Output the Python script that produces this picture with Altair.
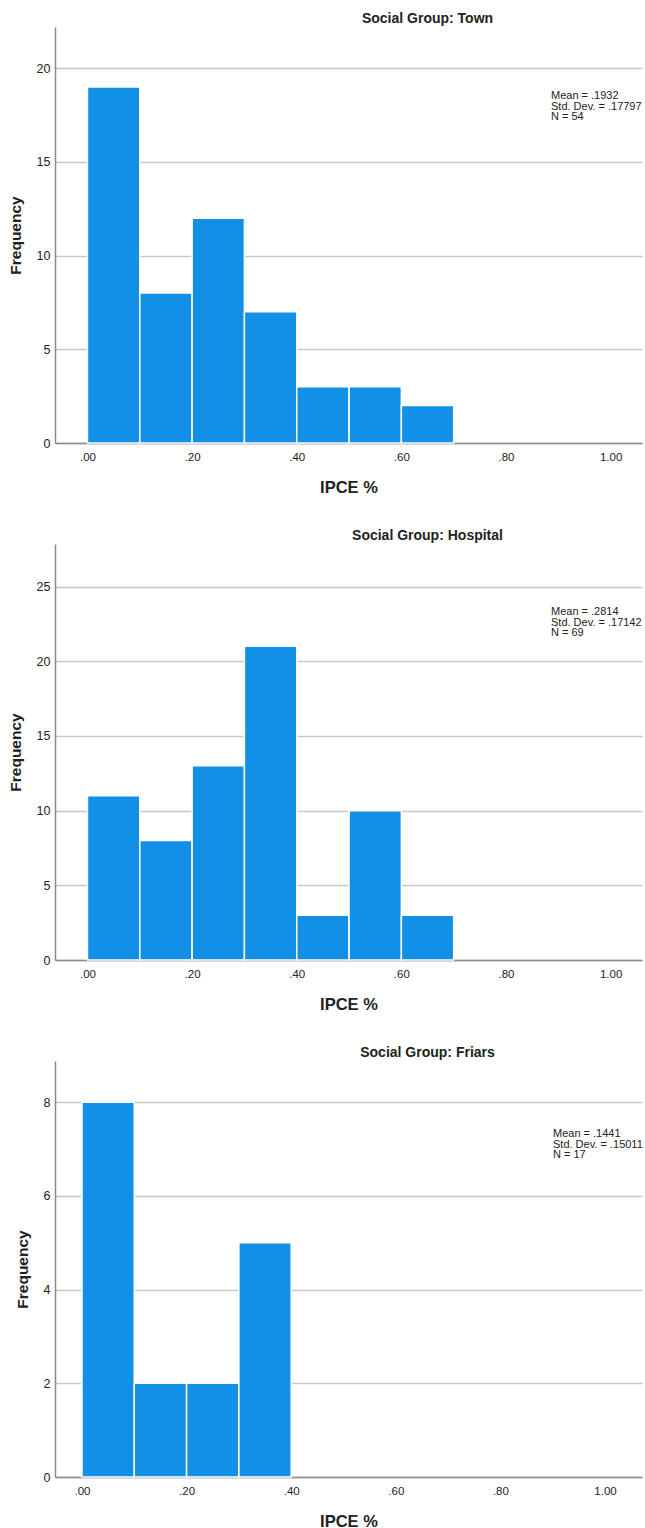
import altair as alt
import pandas as pd

bin_starts = [0.0, 0.1, 0.2, 0.3, 0.4, 0.5, 0.6]
town_counts = [19, 8, 12, 7, 3, 3, 2]
hospital_counts = [11, 8, 13, 21, 3, 10, 3]
friars_counts = [8, 2, 2, 5]

titles = ["Social Group: Town", "Social Group: Hospital", "Social Group: Friars"]
stats = [
    ["Mean = .1932", "Std. Dev. = .17797", "N = 54"],
    ["Mean = .2814", "Std. Dev. = .17142", "N = 69"],
    ["Mean = .1441", "Std. Dev. = .15011", "N = 17"],
]
y_ticks = [[0, 5, 10, 15, 20], [0, 5, 10, 15, 20, 25], [0, 2, 4, 6, 8]]
y_max = [22.2, 27.85, 8.88]
x_ticks = [0.0, 0.2, 0.4, 0.6, 0.8, 1.0]
x_domains = [[-0.0621, 1.060], [-0.0621, 1.060], [-0.0516, 1.0707]]
bin_width = 0.1

FONT = "Liberation Sans"
BLUE = "#128FE6"


def panel(counts, title, stat, yt, ymax, xdom, dx, stat_x, stat_y):
    df = pd.DataFrame({
        "start": bin_starts[:len(counts)],
        "count": counts,
    })
    df["end"] = df["start"] + bin_width
    xscale = alt.Scale(domain=xdom, nice=False, zero=False)
    yscale = alt.Scale(domain=[0, ymax], nice=False)
    bars = alt.Chart(df).mark_rect(
        color=BLUE, stroke="white", strokeWidth=1.5
    ).encode(
        x=alt.X("start:Q", scale=xscale, title="IPCE %",
                axis=alt.Axis(values=x_ticks, grid=False, ticks=False,
                              labelExpr="datum.value >= 1 ? '1.00' : '.' + slice(format(datum.value, '.2f'), 2)",
                              labelFont=FONT, labelFontSize=11.5, labelColor="#222",
                              labelPadding=8,
                              titleFont=FONT, titleFontSize=16.5, titleFontWeight="bold",
                              titleColor="#222", titlePadding=17,
                              domainColor="#8a8a8a", domainWidth=1.5)),
        x2="end:Q",
        y=alt.Y("count:Q", scale=yscale, title="Frequency",
                axis=alt.Axis(values=yt, ticks=False, grid=True,
                              gridColor="#c8c8c8", gridWidth=1.4,
                              labelFont=FONT, labelFontSize=12.5, labelColor="#222",
                              labelPadding=5,
                              titleFont=FONT, titleFontSize=15.5, titleFontWeight="bold",
                              titleColor="#222", titlePadding=13,
                              domainColor="#8a8a8a", domainWidth=1.5)),
        y2=alt.datum(0),
    )
    txt = alt.Chart(pd.DataFrame({"t": [stat]})).mark_text(
        font=FONT, fontSize=11, align="left", baseline="top",
        lineHeight=10.5, color="#222"
    ).encode(
        text="t:N",
        x=alt.value(stat_x),
        y=alt.value(stat_y),
    )
    return alt.layer(bars, txt).properties(
        width=587, height=416,
        title=alt.TitleParams(title, font=FONT, fontSize=14, fontWeight="bold",
                              color="#222", anchor="middle", dx=dx, offset=1),
    )


p1 = panel(town_counts, titles[0], stats[0], y_ticks[0], y_max[0], x_domains[0], 79, 496, 63)
p2 = panel(hospital_counts, titles[1], stats[1], y_ticks[1], y_max[1], x_domains[1], 79, 496, 62)
p3 = panel(friars_counts, titles[2], stats[2], y_ticks[2], y_max[2], x_domains[2], 79, 498, 67)

chart = alt.vconcat(p1, p2, p3, spacing=33).properties(
    padding={"left": 8, "top": 12, "right": 2, "bottom": 2},
    background="white",
).configure_view(stroke=None)

chart.save("out.html", embed_options={"renderer": "svg", "actions": False})
